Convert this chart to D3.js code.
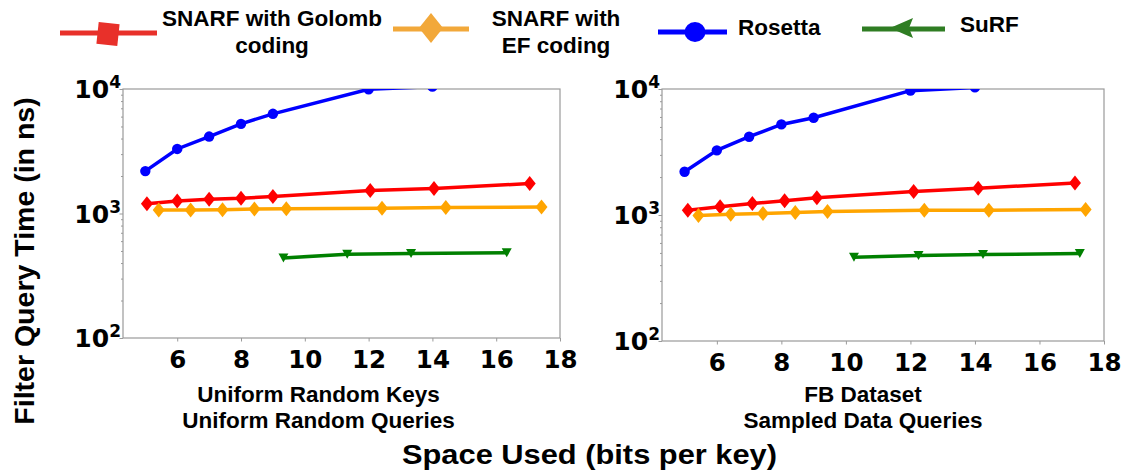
<!DOCTYPE html>
<html><head><meta charset="utf-8">
<script src="https://cdn.jsdelivr.net/npm/d3@7"></script>
<style>body{margin:0;background:#fff}svg{display:block}</style>
</head><body>
<svg id="c" width="1140" height="471"></svg>
<script>
// ---- data ----
const seriesNames = ["SNARF with Golomb coding", "SNARF with EF coding", "Rosetta", "SuRF"];
const seriesColors = ["#ff0000", "#ffa500", "#0000ff", "#008000"];
const legendColors = ["#e8302a", "#f2a83a", "#0000ff", "#2f7d23"];
const xTicks = [6, 8, 10, 12, 14, 16, 18];
const yTicks = [100, 1000, 10000];
const panelTitles = [["Uniform Random Keys", "Uniform Random Queries"], ["FB Dataset", "Sampled Data Queries"]];

// left panel: Uniform Random
const uniGolombX = [5.05, 6, 7, 8, 9, 12.05, 14.05, 17.05];
const uniGolombY = [1200, 1262, 1302, 1325, 1367, 1528, 1586, 1740];
const uniEFX = [5.42, 6.42, 7.42, 8.42, 9.42, 12.42, 14.42, 17.42];
const uniEFY = [1067, 1067, 1074, 1087, 1093, 1101, 1115, 1128];
const uniRosettaX = [5, 6, 7, 8, 9, 12, 14];
const uniRosettaY = [2190, 3300, 4150, 5250, 6320, 9950, 10450];
const uniSurfX = [9.33, 11.33, 13.33, 16.33];
const uniSurfY = [440, 471, 477, 483];

// right panel: FB dataset
const fbGolombX = [5.1, 6.1, 7.1, 8.1, 9.1, 12.1, 14.1, 17.1];
const fbGolombY = [1092, 1161, 1234, 1296, 1369, 1537, 1634, 1791];
const fbEFX = [5.43, 6.43, 7.43, 8.43, 9.43, 12.43, 14.43, 17.43];
const fbEFY = [991, 1016, 1029, 1047, 1067, 1092, 1092, 1106];
const fbRosettaX = [5, 6, 7, 8, 9, 12, 14];
const fbRosettaY = [2205, 3260, 4180, 5235, 5915, 9700, 10300];
const fbSurfX = [10.25, 12.25, 14.25, 17.25];
const fbSurfY = [463, 476, 486, 494];

const panels = [
  {x0: 123, x1: 560, y0: 89, y1: 338, title: panelTitles[0], tx: 318.5,
   series: [[uniGolombX, uniGolombY], [uniEFX, uniEFY], [uniRosettaX, uniRosettaY], [uniSurfX, uniSurfY]]},
  {x0: 662, x1: 1104, y0: 89, y1: 341, title: panelTitles[1], tx: 863,
   series: [[fbGolombX, fbGolombY], [fbEFX, fbEFY], [fbRosettaX, fbRosettaY], [fbSurfX, fbSurfY]]}
];

const svg = d3.select("#c");
const SANS = "'Liberation Sans', Arial, sans-serif";
const DJ = "'DejaVu Sans', sans-serif";
const diamondPath = "M0,-7.5 L6,0 L0,7.5 L-6,0Z";
const trianglePath = "M-5,-4.5 L5,-4.5 L0,4.5Z";

panels.forEach((p, pi) => {
  const x = d3.scaleLinear().domain([4.3, 18]).range([p.x0, p.x1]);
  const y = d3.scaleLog().domain([100, 10000]).range([p.y1, p.y0]);
  const g = svg.append("g");
  const clipId = "clip" + pi;
  svg.append("clipPath").attr("id", clipId).append("rect")
    .attr("x", p.x0).attr("y", p.y0).attr("width", p.x1 - p.x0).attr("height", p.y1 - p.y0);

  // frame
  g.append("rect").attr("x", p.x0).attr("y", p.y0).attr("width", p.x1 - p.x0).attr("height", p.y1 - p.y0)
    .attr("fill", "none").attr("stroke", "#9a9a9a").attr("stroke-width", 1.2);

  // x axis
  const xa = g.append("g").attr("transform", `translate(0,${p.y1})`)
    .call(d3.axisBottom(x).tickValues(xTicks).tickSize(3.5).tickFormat(d3.format("d")));
  xa.select(".domain").remove();
  xa.selectAll("line").attr("stroke", "#9a9a9a");
  xa.selectAll("text").attr("font-family", DJ).attr("font-weight", "bold").attr("font-size", 24.5)
    .attr("fill", "#000").attr("dy", "0.95em");

  // y axis (major + minor ticks)
  const minor = [];
  [100, 1000].forEach(b => { for (let k = 2; k <= 9; k++) minor.push(b * k); });
  const ya = g.append("g").attr("transform", `translate(${p.x0},0)`)
    .call(d3.axisLeft(y).tickValues(minor).tickSize(2).tickFormat(""));
  ya.select(".domain").remove();
  ya.selectAll("line").attr("stroke", "#9a9a9a");
  const yl = g.append("g").attr("transform", `translate(${p.x0},0)`)
    .call(d3.axisLeft(y).tickValues(yTicks).tickSize(3.5).tickFormat(""));
  yl.select(".domain").remove();
  yl.selectAll("line").attr("stroke", "#9a9a9a");
  yTicks.forEach(v => {
    const t = g.append("text").attr("x", p.x0 - 2).attr("y", y(v) + 9)
      .attr("text-anchor", "end").attr("font-family", DJ).attr("font-weight", "bold")
      .attr("font-size", 25).attr("fill", "#000");
    t.append("tspan").text("10");
    t.append("tspan").attr("font-size", 17).attr("dy", -10).text(String(Math.round(Math.log10(v))));
  });

  // series
  const plot = g.append("g").attr("clip-path", `url(#${clipId})`);
  p.series.forEach((s, si) => {
    const pts = s[0].map((xv, i) => [xv, s[1][i]]);
    plot.append("path").datum(pts)
      .attr("d", d3.line().x(d => x(d[0])).y(d => y(d[1])))
      .attr("fill", "none").attr("stroke", seriesColors[si]).attr("stroke-width", 3.5);
    const m = plot.selectAll(null).data(pts).enter();
    if (si === 2) {
      m.append("circle").attr("cx", d => x(d[0])).attr("cy", d => y(d[1])).attr("r", 5.2)
        .attr("fill", seriesColors[si]);
    } else {
      m.append("path").attr("d", si === 3 ? trianglePath : diamondPath)
        .attr("transform", d => `translate(${x(d[0])},${y(d[1])})`)
        .attr("fill", seriesColors[si]);
    }
  });

  // panel subtitle
  p.title.forEach((t, i) => {
    g.append("text").attr("x", p.tx).attr("y", 401.5 + i * 26.5).attr("text-anchor", "middle")
      .attr("font-family", SANS).attr("font-weight", "bold").attr("font-size", 22.5).text(t);
  });
});

// axis titles
svg.append("text").attr("transform", "translate(34,261) rotate(-90)").attr("text-anchor", "middle")
  .attr("font-family", SANS).attr("font-weight", "bold").attr("font-size", 28.5).text("Filter Query Time (in ns)");
svg.append("text").attr("x", 589.5).attr("y", 464).attr("text-anchor", "middle")
  .attr("font-family", SANS).attr("font-weight", "bold").attr("font-size", 28)
  .attr("textLength", 375).attr("lengthAdjust", "spacingAndGlyphs").text("Space Used (bits per key)");

// legend
const legendItems = [
  {lx0: 60, lx1: 157, ly: 33, mx: 108, my: 34, lines: ["SNARF with Golomb", "coding"], tx: 272, anchor: "middle"},
  {lx0: 393, lx1: 469, ly: 29, mx: 431, my: 28, lines: ["SNARF with", "EF coding"], tx: 556, anchor: "middle"},
  {lx0: 658, lx1: 727, ly: 32, mx: 695, my: 32, lines: ["Rosetta"], tx: 738, anchor: "start", by: 35},
  {lx0: 862, lx1: 945, ly: 29, mx: 902, my: 28, lines: ["SuRF"], tx: 960, anchor: "start", by: 32}
];
const lg = svg.append("g");
legendItems.forEach((it, i) => {
  lg.append("line").attr("x1", it.lx0).attr("x2", it.lx1).attr("y1", it.ly).attr("y2", it.ly)
    .attr("stroke", legendColors[i]).attr("stroke-width", 5);
  let sym;
  if (i === 0) sym = lg.append("rect").attr("x", -10.5).attr("y", -11).attr("width", 21).attr("height", 22)
    .attr("transform", `translate(${it.mx},${it.my}) rotate(6)`);
  else if (i === 1) sym = lg.append("path").attr("d", "M0,-15 L12,0 L0,15 L-12,0Z").attr("transform", `translate(${it.mx},${it.my})`);
  else if (i === 2) sym = lg.append("ellipse").attr("rx", 10.5).attr("ry", 10).attr("cx", it.mx).attr("cy", it.my);
  else sym = lg.append("path").attr("d", "M-12,0 L11,-10 L7,0 L11,10Z").attr("transform", `translate(${it.mx},${it.my})`);
  sym.attr("fill", legendColors[i]);
  if (it.lines.length === 2) {
    it.lines.forEach((t, k) => lg.append("text").attr("x", it.tx).attr("y", 26 + k * 26.5)
      .attr("text-anchor", it.anchor).attr("font-family", SANS).attr("font-weight", "bold").attr("font-size", 22.5).text(t));
  } else {
    lg.append("text").attr("x", it.tx).attr("y", it.by).attr("text-anchor", it.anchor)
      .attr("font-family", SANS).attr("font-weight", "bold").attr("font-size", 22.5).text(it.lines[0]);
  }
});
</script>
</body></html>
